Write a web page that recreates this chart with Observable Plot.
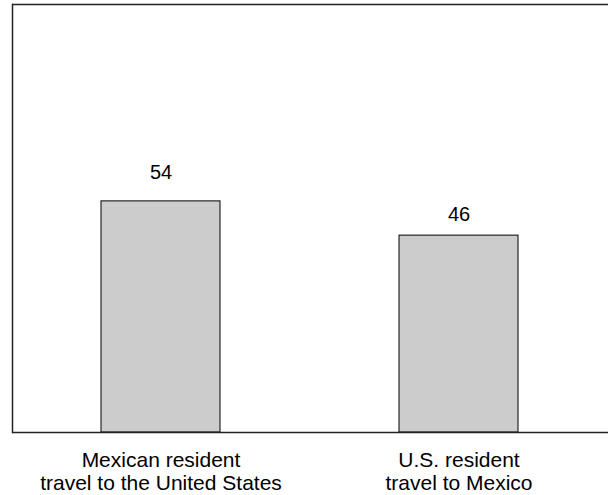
<!DOCTYPE html>
<html>
<head>
<meta charset="utf-8">
<script src="https://cdn.jsdelivr.net/npm/d3@7"></script>
<script src="https://cdn.jsdelivr.net/npm/@observablehq/plot@0.6"></script>
<style>
  html, body { margin: 0; padding: 0; background: #fff; overflow: hidden; }
  #chart svg { display: block; }
</style>
</head>
<body>
<div id="chart"></div>
<script>
const categories = [
  "Mexican resident\ntravel to the United States",
  "U.S. resident\ntravel to Mexico"
];
const values = [54, 46];

const data = categories.map((c, i) => ({category: c, value: values[i]}));

const labelStyle = {x: "category", y: "value", text: d => String(d.value), lineAnchor: "bottom", fontSize: 20, fill: "#000"};

const chart = Plot.plot({
  width: 608,
  height: 495,
  marginTop: 4,
  marginBottom: 63,
  marginLeft: 12,
  marginRight: 0,
  style: {fontFamily: "'Liberation Sans', Arial, sans-serif", background: "#fff"},
  x: {domain: categories, paddingInner: 0.6, paddingOuter: 0.3, label: null},
  y: {domain: [0, 100], axis: null},
  marks: [
    Plot.barY(data, {x: "category", y: "value", fill: "#cccccc", stroke: "#000", strokeWidth: 1, inset: 0}),
    Plot.text(data.slice(0, 1), {...labelStyle, dy: -22}),
    Plot.text(data.slice(1), {...labelStyle, dy: -15}),
    Plot.ruleY([0, 100], {stroke: "#222", strokeWidth: 1.5}),
    Plot.frame({anchor: "left", stroke: "#222", strokeWidth: 1.5}),
    Plot.axisX({tickSize: 0, tickPadding: 18, fontSize: 21, lineHeight: 1.1, fill: "#000", label: null})
  ]
});
document.getElementById("chart").appendChild(chart);
</script>
</body>
</html>
